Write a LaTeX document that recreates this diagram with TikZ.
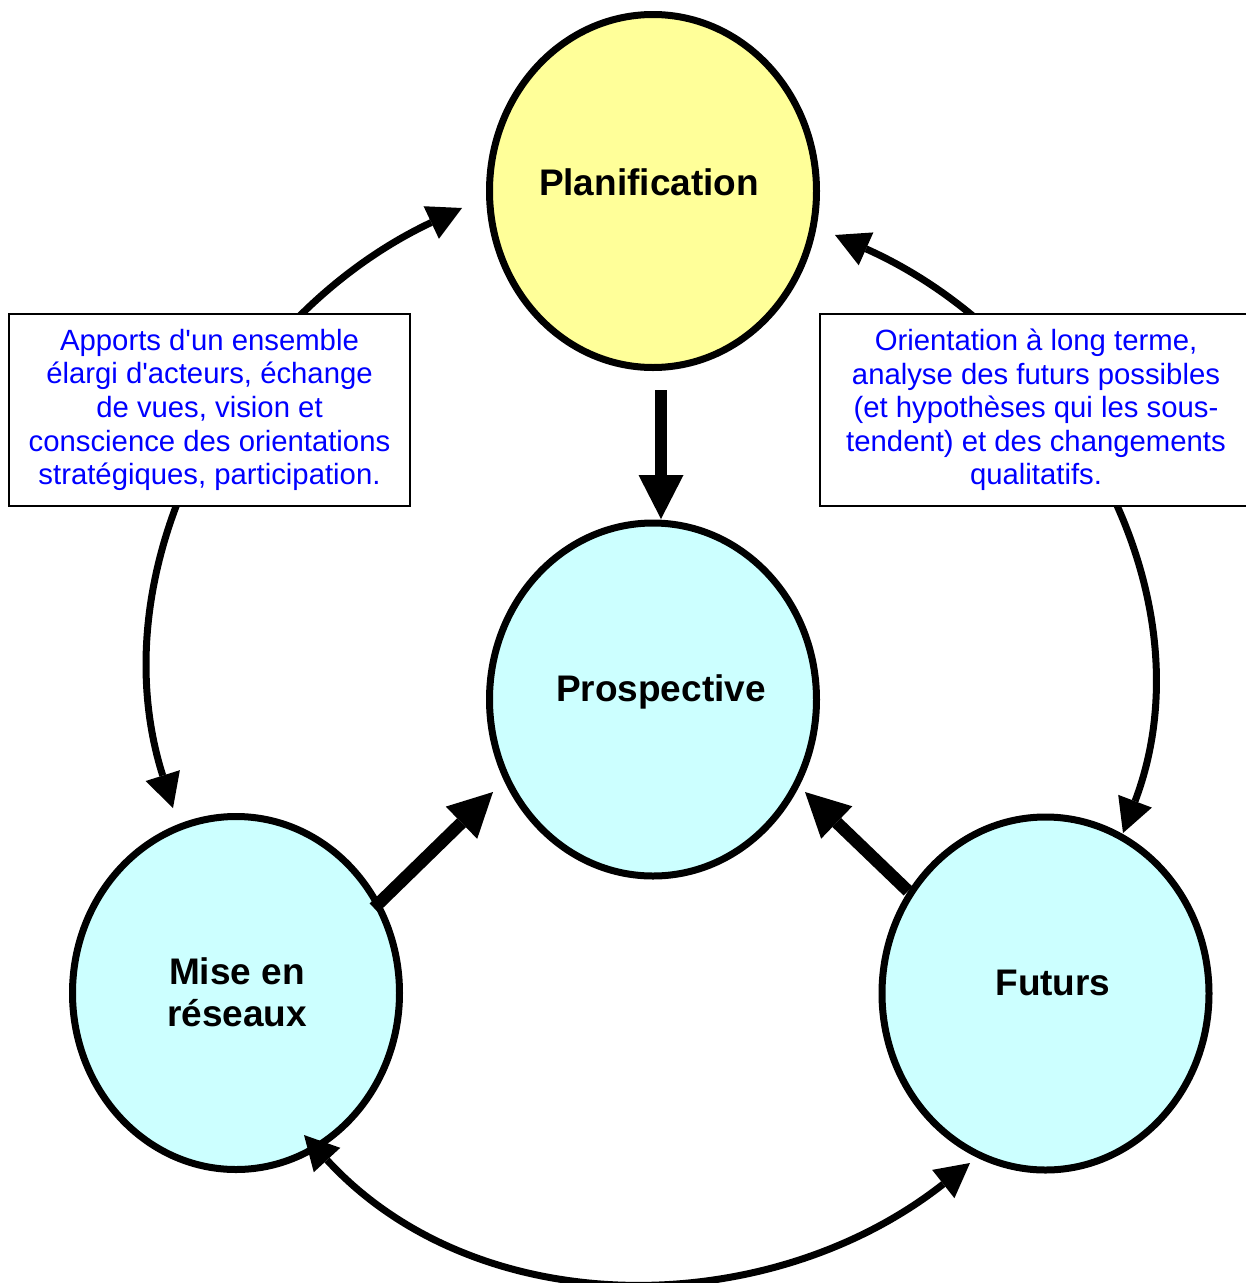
\documentclass[tikz,border=0pt]{standalone}
\usepackage{fontspec}
\setmainfont[Ligatures=TeXOff]{Liberation Sans}
\usetikzlibrary{arrows.meta,shapes.geometric}
\definecolor{planyellow}{HTML}{FFFF99}
\definecolor{lightcyan}{HTML}{CCFFFF}
\begin{document}
\begin{tikzpicture}[x=1pt,y=-1pt,
  bubble/.style={ellipse, draw=black, line width=7pt, minimum width=327pt, minimum height=353pt, inner sep=0pt},
  bubblelabel/.style={font=\fontsize{37}{42}\selectfont\bfseries, inner sep=0pt, align=center},
  notebox/.style={draw=black, line width=2pt, fill=white, inner sep=0pt, align=center, text=blue,
    font=\fontsize{29.3}{33.6}\selectfont},
  curvearrow/.style={line width=7pt,
    {Triangle[length=34pt,width=36pt,line width=0pt]}-{Triangle[length=34pt,width=36pt,line width=0pt]}},
  bigarrow/.style={line width=12.5pt, -{Triangle[length=44pt,width=45pt,line width=0pt]}}
]
\useasboundingbox[fill=white] (0,0) rectangle (1246,1283);

% bubbles
\node[bubble, fill=planyellow] (plan) at (653,191) {};
\node[bubble, fill=lightcyan] (pros) at (653,699.5) {};
\node[bubble, fill=lightcyan] (mise) at (236,993) {};
\node[bubble, fill=lightcyan] (fut) at (1045.5,993.5) {};

\node[bubblelabel, anchor=base] (planlbl) at (649,195) {Planification};
\node[bubblelabel, anchor=base] (proslbl) at (661,701) {Prospective};
\node[bubblelabel] (miselbl) at (237,992) {Mise en\\réseaux};
\node[bubblelabel, anchor=base] (futlbl) at (1053,995) {Futurs};

% curved connectors
\coordinate (lt) at (462,208);
\coordinate (lb) at (173,808);
\coordinate (rt) at (835,235);
\coordinate (rb) at (1123,833);
\coordinate (bl) at (304,1135);
\coordinate (br) at (970,1163);
\draw[curvearrow] (lt) .. controls (233,316) and (97,568) .. (lb);
\draw[curvearrow] (rt) .. controls (1068,339) and (1213,595) .. (rb);
\draw[curvearrow] (bl) .. controls (478,1324) and (768,1322) .. (br);

% straight thick arrows
\coordinate (ps) at (661,390);
\coordinate (pe) at (661,519);
\coordinate (ms) at (374,908);
\coordinate (me) at (493,792);
\coordinate (fs) at (908,891);
\coordinate (fe) at (805,792);
\draw[bigarrow] (ps) -- (pe);
\draw[bigarrow] (ms) -- (me);
\draw[bigarrow] (fs) -- (fe);

% text boxes
\node[notebox, minimum width=401pt, minimum height=192pt] (boxl) at (209.5,410)
  {Apports d'un ensemble\\élargi d'acteurs, échange\\de vues, vision et\\conscience des orientations\\stratégiques, participation.};
\node[notebox, minimum width=432pt, minimum height=192pt] (boxr) at (1036,410)
  {Orientation à long terme,\\analyse des futurs possibles\\(et hypothèses qui les sous-\\tendent) et des changements\\qualitatifs.};
\end{tikzpicture}
\end{document}
